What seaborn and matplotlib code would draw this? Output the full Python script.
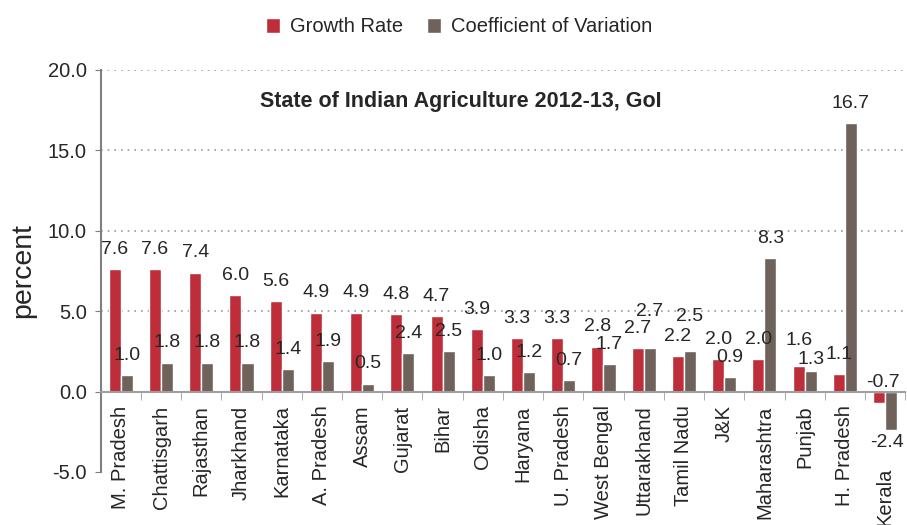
import pandas as pd
import matplotlib.pyplot as plt
import seaborn as sns
from matplotlib.ticker import FormatStrFormatter
import matplotlib.transforms as mtransforms

# data
states = ['M. Pradesh', 'Chattisgarh', 'Rajasthan', 'Jharkhand', 'Karnataka',
          'A. Pradesh', 'Assam', 'Gujarat', 'Bihar', 'Odisha', 'Haryana',
          'U. Pradesh', 'West Bengal', 'Uttarakhand', 'Tamil Nadu', 'J&K',
          'Maharashtra', 'Punjab', 'H. Pradesh', 'Kerala']
growth_rate = [7.6, 7.6, 7.4, 6.0, 5.6, 4.9, 4.9, 4.8, 4.7, 3.9, 3.3,
               3.3, 2.8, 2.7, 2.2, 2.0, 2.0, 1.6, 1.1, -0.7]
coeff_var = [1.0, 1.8, 1.8, 1.8, 1.4, 1.9, 0.5, 2.4, 2.5, 1.0, 1.2,
             0.7, 1.7, 2.7, 2.5, 0.9, 8.3, 1.3, 16.7, -2.4]
series_names = ['Growth Rate', 'Coefficient of Variation']
colors = ['#BE2E3A', '#6E625B']

# labels moved by hand in the original to avoid overlaps (points, up is +)
nudges = {(1, 'Uttarakhand'): 12, (1, 'Tamil Nadu'): 11,
          (0, 'Punjab'): 4, (1, 'Punjab'): -6}

df = pd.DataFrame({'state': states * 2,
                   'value': growth_rate + coeff_var,
                   'series': [series_names[0]] * len(states) + [series_names[1]] * len(states)})

sns.set_style('white')
plt.rcParams['font.family'] = ['Liberation Sans', 'DejaVu Sans']

fig = plt.figure(figsize=(9.07, 5.25), dpi=100)
ax = fig.add_axes([0.111, 0.101, 0.887, 0.766])

sns.barplot(data=df, x='state', y='value', hue='series', palette=colors,
            width=0.6, gap=0, saturation=1, ax=ax, legend=True)

# value labels on top of each bar
for si, cont in enumerate(ax.containers):
    for st, p in zip(states, cont.patches):
        h = p.get_height()
        xc = p.get_x() + p.get_width() / 2
        if h >= 0:
            dy = 11 + nudges.get((si, st), 0)
            ax.annotate(f'{h:.1f}', (xc, h), xytext=(0, dy), textcoords='offset points',
                        ha='center', va='baseline', fontsize=14)
        elif h > -1:
            ax.annotate(f'{h:.1f}', (xc + 0.1, 0), xytext=(0, 3), textcoords='offset points',
                        ha='center', va='baseline', fontsize=14)
        else:
            ax.annotate(f'{h:.1f}', (xc - 0.1, h), xytext=(0, -3), textcoords='offset points',
                        ha='center', va='top', fontsize=14)

ax.set_ylim(-5, 20)
ax.set_xlim(-0.5, len(states) - 0.5)
ax.set_yticks([-5, 0, 5, 10, 15, 20])
ax.yaxis.set_major_formatter(FormatStrFormatter('%.1f'))
ax.tick_params(axis='y', labelsize=14.5, length=4, color='#7f7f7f', pad=6, left=True)

# x ticks: labels at centres, tick marks between groups
ax.set_xticks([i + 0.5 for i in range(-1, len(states))], minor=True)
ax.tick_params(axis='x', which='minor', length=6, color='#9f9f9f', bottom=True)
ax.tick_params(axis='x', which='major', length=0, pad=10, labelsize=14.5, labelrotation=90)
ax.set_xticks(range(len(states)))
ax.set_xticklabels(states, rotation=90, fontsize=14.5)

ax.set_xlabel('')
ax.set_ylabel('percent', fontsize=20.5, labelpad=8)

for s in ['top', 'right']:
    ax.spines[s].set_visible(False)
ax.spines['left'].set_color('#7f7f7f')
ax.spines['left'].set_linewidth(1.5)
ax.spines['bottom'].set_position(('data', 0))
ax.spines['bottom'].set_color('#9f9f9f')
ax.spines['bottom'].set_linewidth(1.5)

ax.yaxis.grid(True, linestyle=(0, (1, 3)), color='#9a9a9a', linewidth=1.2)
ax.get_ygridlines()[0].set_visible(False)
ax.set_axisbelow(True)

ax.text(0.447, 0.92, 'State of Indian Agriculture 2012-13, GoI', transform=ax.transAxes,
        ha='center', va='center', fontsize=15.5, fontweight='bold')

handles, labels = ax.get_legend_handles_labels()
ax.get_legend().remove()
fig.legend(handles, labels, loc='center', bbox_to_anchor=(0.506, 0.949), ncol=2,
           frameon=False, fontsize=14.5, handlelength=0.7, handleheight=0.8,
           handletextpad=0.5, columnspacing=1.2)

# Kerala label sits lower in the original
fig.canvas.draw()
lbl = ax.get_xticklabels()[-1]
lbl.set_transform(lbl.get_transform() + mtransforms.ScaledTranslation(0, -0.62, fig.dpi_scale_trans))

fig.savefig('out.png', dpi=100)
